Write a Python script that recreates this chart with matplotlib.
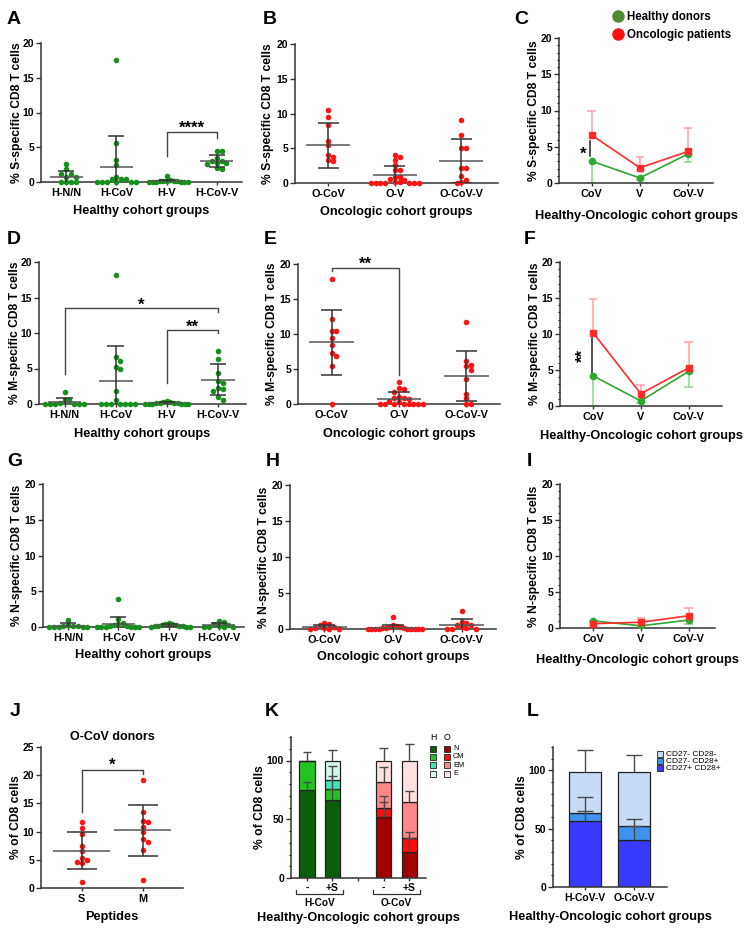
import numpy as np
import matplotlib
matplotlib.use('Agg')
import matplotlib.pyplot as plt
from matplotlib.lines import Line2D
from matplotlib.patches import Rectangle
from matplotlib.ticker import MultipleLocator

plt.rcParams['font.family'] = ['Liberation Sans', 'DejaVu Sans']
plt.rcParams['font.weight'] = 'bold'
plt.rcParams['axes.labelweight'] = 'bold'
plt.rcParams['axes.titleweight'] = 'bold'
plt.rcParams['axes.linewidth'] = 1.1
plt.rcParams['axes.edgecolor'] = '#333333'

W, H = 753, 932

# ---------------- data ----------------
healthy_groups = ['H-N/N', 'H-CoV', 'H-V', 'H-CoV-V']
onco_groups = ['O-CoV', 'O-V', 'O-CoV-V']
line_groups = ['CoV', 'V', 'CoV-V']

# A: S-specific, healthy cohort
hS_nn = [2.6, 1.8, 1.2, 1.2, 0.7, 0.7, 0.0, 0.0, 0.0, 0.0]
hS_cov = [17.5, 5.6, 3.2, 2.4, 0.7, 0.5, 0.5, 0.5, 0.0, 0.0, 0.0, 0.0, 0.0, 0.0]
hS_v = [0.8, 0.3, 0.2, 0.2, 0.1, 0.1, 0.1, 0.0, 0.0, 0.0, 0.0, 0.0, 0.0]
hS_covv = [4.5, 4.4, 3.4, 3.0, 3.0, 2.8, 2.7, 2.6, 2.0, 1.8]
hS_mean = [0.75, 2.1, 0.15, 3.0]
hS_sd = [0.85, 4.5, 0.2, 0.85]

# B: S-specific, oncologic cohort
oS_cov = [10.5, 9.5, 8.3, 6.1, 5.4, 4.1, 3.8, 3.3, 3.1]
oS_v = [4.0, 3.7, 3.3, 2.6, 1.9, 1.9, 0.9, 0.9, 0.6, 0.4, 0.2, 0.1,
        0.0, 0.0, 0.0, 0.0, 0.0, 0.0, 0.0]
oS_covv = [9.0, 6.9, 5.1, 5.0, 2.2, 2.2, 1.0, 0.4, 0.1, 0.0]
oS_mean = [5.4, 1.1, 3.2]
oS_sd = [3.25, 1.3, 3.15]

# C: S-specific, group means
lineS_h_mean = [3.0, 0.7, 4.0]
lineS_h_sd = [3.0, 0.35, 1.15]
lineS_o_mean = [6.6, 2.1, 4.35]
lineS_o_sd = [3.3, 1.5, 3.25]

# D: M-specific, healthy cohort
hM_nn = [1.7, 0.6, 0.5, 0.1, 0.0, 0.0, 0.0, 0.0, 0.0, 0.0]
hM_cov = [18.2, 6.6, 6.0, 5.2, 5.0, 1.9, 0.6, 0.0, 0.0, 0.0, 0.0, 0.0, 0.0, 0.0]
hM_v = [0.4, 0.3, 0.3, 0.2, 0.2, 0.1, 0.1, 0.0, 0.0, 0.0, 0.0, 0.0, 0.0]
hM_covv = [7.4, 6.3, 4.3, 3.2, 3.0, 2.2, 2.1, 1.8, 1.0, 0.5]
hM_mean = [0.35, 3.3, 0.12, 3.4]
hM_sd = [0.55, 4.8, 0.15, 2.2]

# E: M-specific, oncologic cohort
oM_cov = [17.8, 12.1, 10.5, 10.4, 9.4, 8.5, 7.3, 6.8, 5.4, 0.0]
oM_v = [3.1, 2.3, 2.2, 1.7, 1.0, 0.9, 0.8, 0.7, 0.5, 0.3,
        0.0, 0.0, 0.0, 0.0, 0.0, 0.0, 0.0, 0.0]
oM_covv = [11.7, 6.2, 5.6, 5.4, 4.8, 3.6, 1.5, 0.8, 0.0, 0.0]
oM_mean = [8.8, 0.7, 4.0]
oM_sd = [4.6, 0.95, 3.55]

# F: M-specific, group means
lineM_h_mean = [4.2, 0.7, 4.8]
lineM_h_sd = [4.2, 0.35, 2.2]
lineM_o_mean = [10.2, 1.7, 5.3]
lineM_o_sd = [4.6, 1.2, 3.6]

# G: N-specific, healthy cohort
hN_nn = [1.0, 0.3, 0.2, 0.2, 0.1, 0.0, 0.0, 0.0, 0.0, 0.0]
hN_cov = [3.9, 1.1, 0.6, 0.4, 0.3, 0.2, 0.1, 0.0, 0.0, 0.0, 0.0, 0.0, 0.0]
hN_v = [0.5, 0.4, 0.4, 0.3, 0.3, 0.2, 0.2, 0.1, 0.1, 0.0, 0.0, 0.0]
hN_covv = [0.8, 0.7, 0.4, 0.3, 0.1, 0.0, 0.0, 0.0, 0.0]
hN_mean = [0.2, 0.45, 0.2, 0.3]
hN_sd = [0.3, 1.0, 0.15, 0.3]

# H: N-specific, oncologic cohort
oN_cov = [0.8, 0.7, 0.6, 0.3, 0.2, 0.1, 0.0, 0.0, 0.0]
oN_v = [1.6, 0.5, 0.4, 0.3, 0.3, 0.2, 0.1, 0.1, 0.0, 0.0, 0.0, 0.0, 0.0,
        0.0, 0.0, 0.0, 0.0]
oN_covv = [2.5, 1.0, 0.9, 0.6, 0.5, 0.3, 0.1, 0.0, 0.0, 0.0]
oN_mean = [0.25, 0.2, 0.6]
oN_sd = [0.3, 0.35, 0.75]

# I: N-specific, group means
lineN_h_mean = [1.0, 0.3, 1.1]
lineN_h_sd = [0.2, 0.15, 0.55]
lineN_o_mean = [0.6, 0.8, 1.7]
lineN_o_sd = [0.4, 0.6, 1.1]

# J: O-CoV donors, S vs M peptides
peptides = ['S', 'M']
pep_S = [11.7, 10.7, 9.5, 7.4, 6.6, 5.3, 4.9, 4.6, 4.4, 1.0]
pep_M = [19.1, 13.4, 11.8, 11.7, 10.8, 9.9, 8.6, 8.2, 6.8, 1.4]
pep_mean = [6.6, 10.2]
pep_sd = [3.3, 4.6]

# K: memory subsets (N, CM, EM, E), H-CoV and O-CoV, unstimulated / +S
k_ticks = ['-', '+S', '-', '+S']
k_groups = ['H-CoV', 'O-CoV']
k_subsets = ['N', 'CM', 'EM', 'E']
K_N = [75, 66, 52, 22]
K_CM = [25, 10, 8, 12]
K_EM = [0, 7, 22, 31]
K_E = [0, 17, 18, 35]
K_N_sd = [7, 10, 12.8, 12]
K_CM_sd = [7.5, 10.5, 9.6, 5.4]
K_EM_sd = [0, 12.5, 12.4, 9]
K_E_sd = [0, 9, 11, 14]

# L: CD27/CD28 subsets
l_groups = ['H-CoV-V', 'O-CoV-V']
l_subsets = ['CD27- CD28-', 'CD27- CD28+', 'CD27+ CD28+']
L_pp = [57, 40]
L_mp = [6.5, 12.5]
L_mm = [35.5, 46.5]
L_pp_sd = [8, 12]
L_mp_sd = [13.5, 5.4]
L_mm_sd = [18.7, 14.4]

# ---------------- colours ----------------
GREEN = '#15901a'
RED = '#ff1414'
LINE_GREEN = '#2ea82e'
LINE_RED = '#ff2a2a'
ERR_GREEN = '#8ed48e'
ERR_RED = '#ffa0a0'
BAR_LINE = '#4a4a4a'
K_H_COLORS = ['#0b5e0b', '#22c422', '#45e3b2', '#d2f8ec']
K_O_COLORS = ['#a30000', '#ff0d0d', '#ff8787', '#ffe0e0']
L_COLORS = ['#c7dbf5', '#3f93ef', '#3b3bff']

fig = plt.figure(figsize=(W / 100, H / 100), dpi=100)


def px_axes(x0, x1, ytop, ybot):
    return fig.add_axes([x0 / W, 1 - ybot / H, (x1 - x0) / W, (ybot - ytop) / H])


def style(ax, xlim, ymax, ystep, minor=None):
    for s in ('top', 'right'):
        ax.spines[s].set_visible(False)
    ax.set_xlim(*xlim)
    ax.set_ylim(0, ymax)
    ax.set_yticks(np.arange(0, ymax + 0.01, ystep))
    ax.tick_params(axis='y', length=3.5, width=1, labelsize=7.5, pad=1.5, color='#333333')
    ax.tick_params(axis='x', length=2.5, width=1, labelsize=7.8, pad=2, color='#333333')
    if minor:
        ax.yaxis.set_minor_locator(MultipleLocator(minor))
        ax.tick_params(axis='y', which='minor', length=1.8, width=0.8)


def labels(ax, xlabel, ylabel, ylab_dx, xlab_y):
    # ylab_dx: pixels from the y axis to the y label centre
    # xlab_y: pixel row of the x label centre
    bb = ax.get_position()
    w, h = bb.width * W, bb.height * H
    ybot = (1 - bb.y0) * H
    ax.set_ylabel(ylabel, fontsize=8.7)
    ax.yaxis.set_label_coords(-ylab_dx / w, 0.5)
    ax.yaxis.label.set_va('center')
    ax.set_xlabel(xlabel, fontsize=9.2)
    ax.xaxis.set_label_coords(0.5, -(xlab_y - ybot) / h)
    ax.xaxis.label.set_va('center')


def swarm(ax, values, pos, color, diam=4.8, max_half=0.42):
    tr = ax.transData
    px_per_x = tr.transform((1, 0))[0] - tr.transform((0, 0))[0]
    ys = tr.transform(np.column_stack([np.zeros(len(values)), values]))[:, 1]
    placed = []
    for yv in ys:
        k, found = 0, None
        while found is None:
            offs = [0.0] if k == 0 else [k * diam, -k * diam]
            for off in offs:
                if all((off - px) ** 2 + (yv - py) ** 2 >= (diam * 0.92) ** 2
                       for px, py in placed):
                    found = off
                    break
            k += 1
        placed.append((found, yv))
    offs = np.array([p[0] for p in placed])
    limit = max_half * px_per_x
    if np.abs(offs).max() > limit:
        offs = offs * limit / np.abs(offs).max()
    ax.scatter(pos + offs / px_per_x, values, s=16, color=color, linewidths=0,
               zorder=3, clip_on=False)


def mean_sd(ax, pos, mean, sd, half=0.33, cap=0.16):
    ax.hlines(mean, pos - half, pos + half, color='#555555', lw=1.1, zorder=4)
    ax.errorbar(pos, mean, yerr=sd, fmt='none', ecolor='#333333', elinewidth=1.1,
                capsize=0, zorder=4)
    for y in (mean + sd, mean - sd):
        if y > 0:
            ax.hlines(y, pos - cap, pos + cap, color='#333333', lw=1.1, zorder=4)


def bracket(ax, x1, x2, y, y1, y2, text, fs=12):
    ax.plot([x1, x1, x2, x2], [y1, y, y, y2], color='#444444', lw=1.0, clip_on=False)
    ax.text((x1 + x2) / 2, y - 0.6, text, ha='center', va='bottom', fontsize=fs)


def scatter_panel(box, xlim, groups, series, means, sds, color, xlabel, ylabel,
                  ylab_dx, xlab_y):
    ax = px_axes(*box)
    style(ax, xlim, 20, 5)
    for i, vals in enumerate(series):
        swarm(ax, vals, i, color)
        mean_sd(ax, i, means[i], sds[i])
    ax.set_xticks(range(len(groups)))
    ax.set_xticklabels(groups)
    labels(ax, xlabel, ylabel, ylab_dx, xlab_y)
    return ax


def line_panel(box, xlim, h_mean, h_sd, o_mean, o_sd, ylabel, ylab_dx, xlab_y):
    ax = px_axes(*box)
    style(ax, xlim, 20, 5, minor=1)
    x = np.arange(len(line_groups))
    h_mean, h_sd = np.array(h_mean), np.array(h_sd)
    o_mean, o_sd = np.array(o_mean), np.array(o_sd)
    c = 0.09
    ax.vlines(x, h_mean - h_sd, h_mean, color=ERR_GREEN, lw=1.1, zorder=2)
    ax.hlines(h_mean - h_sd, x - c, x + c, color=ERR_GREEN, lw=1.1, zorder=2)
    ax.vlines(x, o_mean, o_mean + o_sd, color=ERR_RED, lw=1.1, zorder=2)
    ax.hlines(o_mean + o_sd, x - c, x + c, color=ERR_RED, lw=1.1, zorder=2)
    ax.plot(x, h_mean, color=LINE_GREEN, marker='o', ms=4.5, lw=1.2, zorder=3)
    ax.plot(x, o_mean, color=LINE_RED, marker='s', ms=5, lw=1.2, zorder=3)
    ax.set_xticks(x)
    ax.set_xticklabels(line_groups)
    labels(ax, 'Healthy-Oncologic cohort groups', ylabel, ylab_dx, xlab_y)
    return ax


def letter(txt, x, y):
    fig.text(x / W, 1 - y / H, txt, fontsize=14, ha='left', va='center')


# ---------------- row 1: S ----------------
axA = scatter_panel((41, 242, 43, 182), (-0.5, 3.5), healthy_groups,
                    [hS_nn, hS_cov, hS_v, hS_covv], hS_mean, hS_sd, GREEN,
                    'Healthy cohort groups', '% S-specific CD8 T cells', 24, 211)
bracket(axA, 2, 3, 7.2, 3.7, 6.4, '****')

axB = scatter_panel((295, 498, 44, 183), (-0.5, 2.55), onco_groups,
                    [oS_cov, oS_v, oS_covv], oS_mean, oS_sd, RED,
                    'Oncologic cohort groups', '% S-specific CD8 T cells', 27, 212)

axC = line_panel((559, 713, 38, 183), (-0.68, 2.52), lineS_h_mean, lineS_h_sd,
                 lineS_o_mean, lineS_o_sd, '% S-specific CD8 T cells', 25, 216)
axC.plot([-0.03, -0.03], [3.7, 5.75], color='#333333', lw=1.2)
axC.text(-0.18, 4.0, '*', ha='center', va='center', fontsize=12)

legend_handles = [
    Line2D([], [], marker='o', ls='none', color='#4f8c2f', ms=8),
    Line2D([], [], marker='o', ls='none', color='#ff1010', ms=8),
]
fig.legend(legend_handles, ['Healthy donors', 'Oncologic patients'],
           loc='upper left', bbox_to_anchor=(612 / W, 1 - 11 / H), frameon=False,
           fontsize=8.3, handletextpad=0.3, labelspacing=0.55, borderpad=0,
           borderaxespad=0, handlelength=1.0)

# ---------------- row 2: M ----------------
axD = scatter_panel((39, 246, 262, 404), (-0.5, 3.55), healthy_groups,
                    [hM_nn, hM_cov, hM_v, hM_covv], hM_mean, hM_sd, GREEN,
                    'Healthy cohort groups', '% M-specific CD8 T cells', 24, 434)
bracket(axD, 0, 3, 13.5, 4.2, 12.9, '*')
bracket(axD, 2, 3, 10.4, 2.9, 10.0, '**')

axE = scatter_panel((298, 500, 264, 404), (-0.5, 2.5), onco_groups,
                    [oM_cov, oM_v, oM_covv], oM_mean, oM_sd, RED,
                    'Oncologic cohort groups', '% M-specific CD8 T cells', 26, 434)
bracket(axE, 0, 1, 19.5, 19.0, 4.2, '**')

axF = line_panel((560, 722, 262, 406), (-0.69, 2.7), lineM_h_mean, lineM_h_sd,
                 lineM_o_mean, lineM_o_sd, '% M-specific CD8 T cells', 25, 436)
axF.plot([-0.03, -0.03], [4.6, 9.5], color='#333333', lw=1.2)
axF.text(-0.2, 7.0, '**', ha='center', va='center', fontsize=12, rotation=90)

# ---------------- row 3: N ----------------
axG = scatter_panel((43, 244, 484, 627), (-0.5, 3.5), healthy_groups,
                    [hN_nn, hN_cov, hN_v, hN_covv], hN_mean, hN_sd, GREEN,
                    'Healthy cohort groups', '% N-specific CD8 T cells', 26, 655)

axH = scatter_panel((290, 496, 485, 629), (-0.5, 2.5), onco_groups,
                    [oN_cov, oN_v, oN_covv], oN_mean, oN_sd, RED,
                    'Oncologic cohort groups', '% N-specific CD8 T cells', 26, 657)

axI = line_panel((560, 715, 484, 628), (-0.69, 2.55), lineN_h_mean, lineN_h_sd,
                 lineN_o_mean, lineN_o_sd, '% N-specific CD8 T cells', 26, 660)

# ---------------- J ----------------
axJ = px_axes(41, 183, 747, 888)
style(axJ, (-0.67, 1.66), 25, 5)
for i, vals in enumerate([pep_S, pep_M]):
    swarm(axJ, vals, i, RED)
    mean_sd(axJ, i, pep_mean[i], pep_sd[i], half=0.47, cap=0.25)
axJ.set_xticks(range(len(peptides)))
axJ.set_xticklabels(peptides)
labels(axJ, 'Peptides', '% of CD8 cells', 25, 917)
axJ.set_title('O-CoV donors', fontsize=9, pad=5)
bracket(axJ, 0, 1, 21.0, 13.5, 20.3, '*')

# ---------------- K ----------------
axK = px_axes(291, 426, 737, 878)
style(axK, (-0.62, 4.65), 120, 50, minor=10)
axK.set_yticks([0, 50, 100])
k_pos = np.array([0, 1, 3, 4])
bottom = np.zeros(4)
for seg, sd, hc, oc in zip([K_N, K_CM, K_EM, K_E], [K_N_sd, K_CM_sd, K_EM_sd, K_E_sd],
                           K_H_COLORS, K_O_COLORS):
    seg = np.array(seg, float)
    axK.bar(k_pos, seg, bottom=bottom, width=0.6, color=[hc, hc, oc, oc],
            edgecolor='#222222', linewidth=0.9, zorder=2)
    top = bottom + seg
    for x, t, s, v in zip(k_pos, top, sd, seg):
        if v > 0 and s > 0:
            axK.vlines(x, t, t + s, color=BAR_LINE, lw=1.0, zorder=3)
            axK.hlines(t + s, x - 0.17, x + 0.17, color=BAR_LINE, lw=1.0, zorder=3)
    bottom = top
axK.set_xticks(list(k_pos) + [2])
axK.set_xticklabels(k_ticks + [''])
axK.tick_params(axis='x', length=2.5, pad=1, labelsize=7.5)
for gi, g in enumerate(k_groups):
    x1, x2 = k_pos[2 * gi] - 0.42, k_pos[2 * gi + 1] + 0.42
    axK.plot([x1, x1, x2, x2], [-0.085, -0.11, -0.11, -0.085], color='#333333', lw=0.9,
             transform=axK.get_xaxis_transform(), clip_on=False)
    axK.text((x1 + x2) / 2, -0.18, g, ha='center', va='center', fontsize=7.3,
             transform=axK.get_xaxis_transform())
labels(axK, 'Healthy-Oncologic cohort groups', '% of CD8 cells', 31, 918)

# legend of K, drawn as swatches
fig.text(433 / W, 1 - 737 / H, 'H', fontsize=6.3, fontweight='normal', ha='center', va='center')
fig.text(447 / W, 1 - 737 / H, 'O', fontsize=6.3, fontweight='normal', ha='center', va='center')
for r, name in enumerate(k_subsets):
    yc = 748.5 + r * 8.4
    for xc, col in ((433, K_H_COLORS[r]), (447, K_O_COLORS[r])):
        fig.add_artist(Rectangle(((xc - 3) / W, 1 - (yc + 3) / H), 6 / W, 6 / H,
                                 transform=fig.transFigure, facecolor=col,
                                 edgecolor='#222222', linewidth=0.6))
    fig.text(453 / W, 1 - yc / H, name, fontsize=5.3, fontweight='normal',
             ha='left', va='center')

# ---------------- L ----------------
axL = px_axes(553, 667, 747, 887)
style(axL, (-0.65, 1.67), 120, 50, minor=10)
axL.set_yticks([0, 50, 100])
l_pos = np.arange(len(l_groups))
bottom = np.zeros(2)
for seg, sd, col in zip([L_pp, L_mp, L_mm], [L_pp_sd, L_mp_sd, L_mm_sd], L_COLORS[::-1]):
    seg = np.array(seg, float)
    axL.bar(l_pos, seg, bottom=bottom, width=0.64, color=col, edgecolor='#222222',
            linewidth=0.9, zorder=2)
    top = bottom + seg
    axL.vlines(l_pos, top, top + np.array(sd), color=BAR_LINE, lw=1.0, zorder=3)
    axL.hlines(top + np.array(sd), l_pos - 0.17, l_pos + 0.17, color=BAR_LINE, lw=1.0, zorder=3)
    bottom = top
axL.set_xticks(l_pos)
axL.set_xticklabels(l_groups)
axL.tick_params(axis='x', labelsize=7.5)
labels(axL, 'Healthy-Oncologic cohort groups', '% of CD8 cells', 31, 917)
for r, name in enumerate(l_subsets):
    yc = 754 + r * 7.2
    fig.add_artist(Rectangle((657 / W, 1 - (yc + 3) / H), 6 / W, 6 / H,
                             transform=fig.transFigure, facecolor=L_COLORS[r],
                             edgecolor='#222222', linewidth=0.6))
    fig.text(666 / W, 1 - yc / H, name, fontsize=6, fontweight='normal',
             ha='left', va='center')

# ---------------- panel letters ----------------
for txt, x, y in [('A', 7, 19), ('B', 263, 19), ('C', 514, 20),
                  ('D', 7, 239), ('E', 264, 239), ('F', 524, 239),
                  ('G', 7, 461), ('H', 266, 461), ('I', 527, 461),
                  ('J', 10, 712), ('K', 265, 711), ('L', 527, 712)]:
    letter(txt, x, y)

fig.savefig('out.png', dpi=100)
